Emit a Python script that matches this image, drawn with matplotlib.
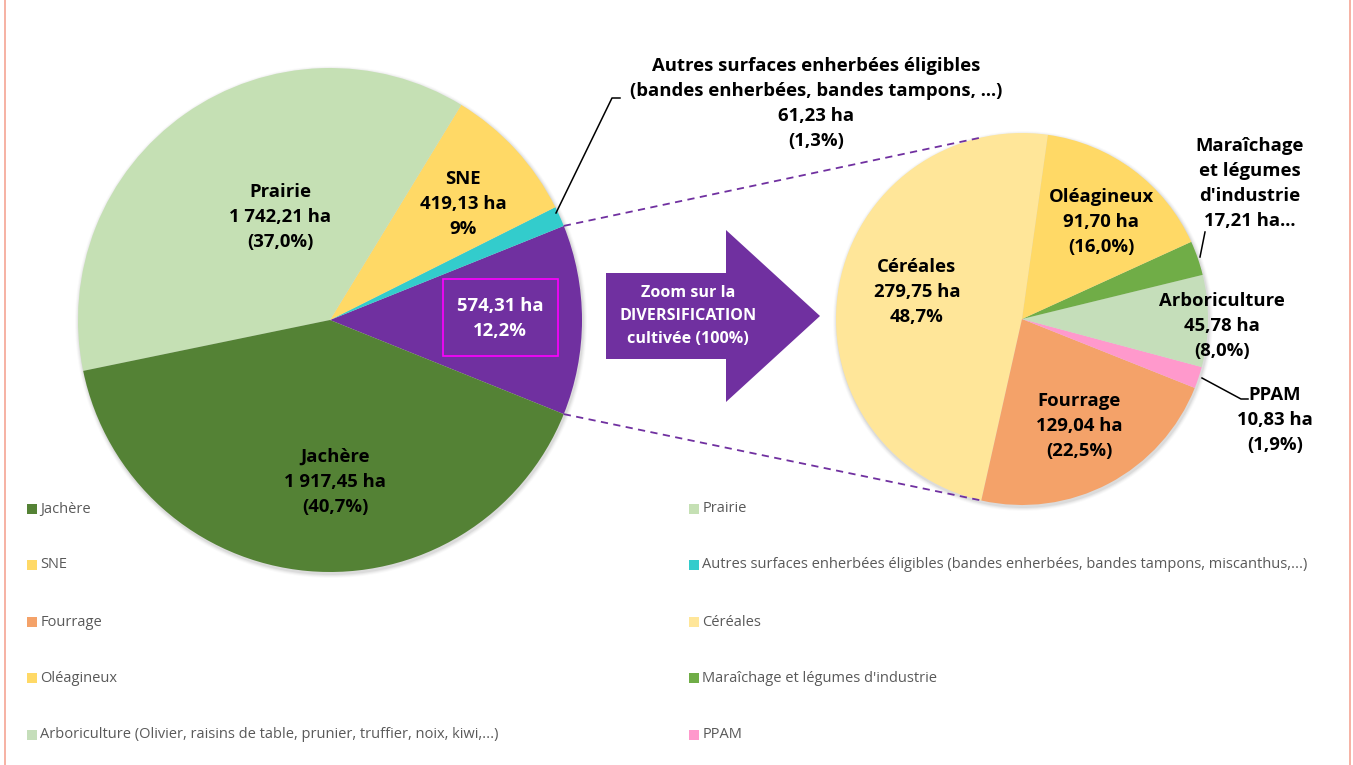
import matplotlib
matplotlib.use("Agg")
import matplotlib.pyplot as plt
import numpy as np
from matplotlib.patches import Rectangle, Polygon, Circle

# ---------------- data ----------------
main_categories = ["Jachère", "Prairie", "SNE",
                   "Autres surfaces enherbées éligibles (bandes enherbées, bandes tampons, miscanthus,...)",
                   "Diversification cultivée"]
main_values = [1917.45, 1742.21, 419.13, 61.23, 574.31]
main_colors = ["#548235", "#C5E0B4", "#FFD966", "#33CCCC", "#7030A0"]

sub_categories = ["Céréales", "Fourrage", "PPAM", "Arboriculture (Olivier, raisins de table, prunier, truffier, noix, kiwi,...)",
                  "Maraîchage et légumes d'industrie", "Oléagineux"]
sub_values = [279.75, 129.04, 10.83, 45.78, 17.21, 91.70]
sub_colors = ["#FFE699", "#F4A269", "#FF99CC", "#C5DEBA", "#70AD47", "#FFD966"]

main_label_text = {
    "Prairie": "Prairie\n1 742,21 ha\n(37,0%)",
    "SNE": "SNE\n419,13 ha\n9%",
    "Jachère": "Jachère\n1 917,45 ha\n(40,7%)",
    "Autres": "Autres surfaces enherbées éligibles\n(bandes enherbées, bandes tampons, ...)\n61,23 ha\n(1,3%)",
    "Div": "574,31 ha\n12,2%",
}
sub_label_text = {
    "Céréales": "Céréales\n279,75 ha\n48,7%",
    "Oléagineux": "Oléagineux\n91,70 ha\n(16,0%)",
    "Maraîchage": "Maraîchage\net légumes\nd'industrie\n17,21 ha...",
    "Arboriculture": "Arboriculture\n45,78 ha\n(8,0%)",
    "Fourrage": "Fourrage\n129,04 ha\n(22,5%)",
    "PPAM": "PPAM\n10,83 ha\n(1,9%)",
}
legend_labels = ["Jachère", "Prairie", "SNE",
                 "Autres surfaces enherbées éligibles (bandes enherbées, bandes tampons, miscanthus,...)",
                 "Fourrage", "Céréales", "Oléagineux", "Maraîchage et légumes d'industrie",
                 "Arboriculture (Olivier, raisins de table, prunier, truffier, noix, kiwi,...)", "PPAM"]
legend_colors = ["#548235", "#C5E0B4", "#FFD966", "#33CCCC", "#F4A269", "#FFE699",
                 "#FFD966", "#70AD47", "#C5DEBA", "#FF99CC"]
arrow_text = "Zoom sur la\nDIVERSIFICATION\ncultivée (100%)"

# ---------------- figure ----------------
W, H = 1353, 765
fig = plt.figure(figsize=(W / 100, H / 100), dpi=100)
ax = fig.add_axes([0, 0, 1, 1])
FONT = "Open Sans"

def Y(y):
    return H - y

def shadow(cx, cy, r):
    for i, a in enumerate([0.05, 0.04, 0.03, 0.02]):
        ax.add_patch(Circle((cx + 1, Y(cy) - 2), r + 1 + i, color="#000000", alpha=a, lw=0, zorder=0))

# main pie
mc = (330, 320); mr = 252
order_main = [4, 3, 2, 1, 0]  # drawn counter-clockwise starting with diversification
mvals = [main_values[i] for i in order_main]
mcols = [main_colors[i] for i in order_main]
div_frac = main_values[4] / sum(main_values)
start_main = -div_frac * 360 / 2
shadow(mc[0], mc[1], mr)
ax.pie(mvals, colors=mcols, center=(mc[0], Y(mc[1])), radius=mr, startangle=start_main,
       counterclock=True, wedgeprops=dict(linewidth=0), frame=False)

# secondary pie
sc = (1022, 319); sr = 186
start_sub = 82
shadow(sc[0], sc[1], sr)
ax.pie(sub_values, colors=sub_colors, center=(sc[0], Y(sc[1])), radius=sr, startangle=start_sub,
       counterclock=True, wedgeprops=dict(linewidth=0), frame=False)

ax.set_xlim(0, W)
ax.set_ylim(0, H)
ax.set_aspect("equal")
ax.axis("off")

# connector dashed lines
a1 = np.deg2rad(div_frac * 180)
p_top = (mc[0] + mr * np.cos(a1), Y(mc[1]) + mr * np.sin(a1))
p_bot = (mc[0] + mr * np.cos(a1), Y(mc[1]) - mr * np.sin(a1))
t_top = np.deg2rad(102)
t_bot = np.deg2rad(-102.6)
q_top = (sc[0] + sr * np.cos(t_top), Y(sc[1]) + sr * np.sin(t_top))
q_bot = (sc[0] + sr * np.cos(t_bot), Y(sc[1]) + sr * np.sin(t_bot))
for p, q in [(p_top, q_top), (p_bot, q_bot)]:
    ax.plot([p[0], q[0]], [p[1], q[1]], ls=(0, (4, 3)), color="#7030A0", lw=1.3, zorder=5)

# labels
lab = dict(fontsize=13.3, fontweight="bold", ha="center", va="center", family=FONT,
           linespacing=1.5, color="#000000", zorder=6)
ax.text(280, Y(217), main_label_text["Prairie"], **lab)
ax.text(463, Y(204), main_label_text["SNE"], **lab)
ax.text(335, Y(482), main_label_text["Jachère"], **lab)
ax.text(816, Y(103.5), main_label_text["Autres"], **lab)
ax.text(500, Y(318), main_label_text["Div"], **{**lab, "color": "white"})
ax.add_patch(Rectangle((443, Y(356)), 115, 77, fill=False, ec="#FF00FF", lw=1.2, zorder=6))
ax.plot([556, 612, 620], [Y(213), Y(98), Y(98)], color="black", lw=1.1, zorder=6)

ax.text(917, Y(292), sub_label_text["Céréales"], **lab)
ax.text(1101, Y(222), sub_label_text["Oléagineux"], **lab)
ax.text(1250, Y(183), sub_label_text["Maraîchage"], **lab)
ax.text(1222, Y(326), sub_label_text["Arboriculture"], **lab)
ax.text(1079, Y(426), sub_label_text["Fourrage"], **lab)
ax.text(1275, Y(420), sub_label_text["PPAM"], **lab)
ax.plot([1200, 1205], [Y(257), Y(232)], color="black", lw=1.1, zorder=6)
ax.plot([1202, 1241, 1248], [Y(378), Y(399), Y(399)], color="black", lw=1.1, zorder=6)

# block arrow
arrow = Polygon([(606, Y(273)), (726, Y(273)), (726, Y(230)), (820, Y(316)),
                 (726, Y(402)), (726, Y(359)), (606, Y(359))],
                closed=True, fc="#7030A0", ec="none", zorder=4)
ax.add_patch(arrow)
ax.text(688, Y(316), arrow_text, fontsize=11.6, fontweight="bold", color="white", ha="center",
        va="center", family=FONT, linespacing=1.6, zorder=6)

# legend
rows_y = [509, 565, 622, 678, 735]
col_x = [27, 689]
for i, (t, c) in enumerate(zip(legend_labels, legend_colors)):
    r, col = divmod(i, 2)
    x0 = col_x[col]; y0 = rows_y[r]
    ax.add_patch(Rectangle((x0, Y(y0) - 5), 10, 10, fc=c, ec="none", zorder=7))
    ax.text(x0 + 13.5, Y(y0), t, fontsize=10.5, color="#595959", ha="left", va="center",
            family=FONT, zorder=7)

# border
for x in [4.5, 1349.5]:
    ax.plot([x, x], [0, H], color="#F5A493", lw=1.2, zorder=8)

fig.savefig("out.png", dpi=100)
